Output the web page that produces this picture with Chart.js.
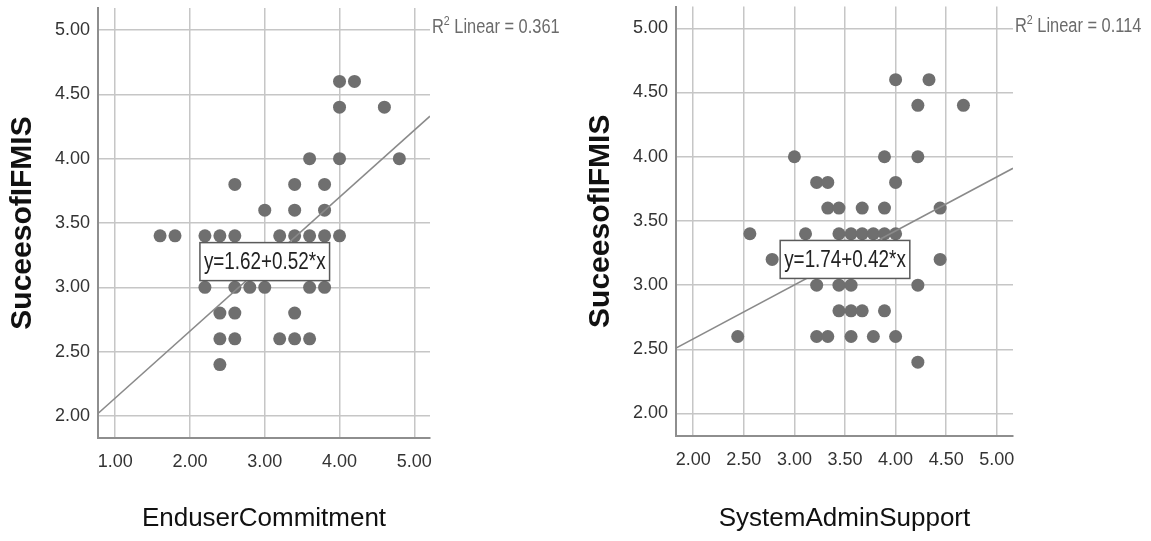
<!DOCTYPE html>
<html>
<head>
<meta charset="utf-8">
<script src="https://cdn.jsdelivr.net/npm/chart.js@4/dist/chart.umd.min.js"></script>
<style>
  html, body { margin: 0; padding: 0; background: #fff; }
  #wrap { position: relative; width: 1151px; height: 541px; overflow: hidden; }
  canvas { position: absolute; top: 0; }
  #leftChart { left: 0; }
  #rightChart { left: 578px; }
</style>
</head>
<body>
<div id="wrap">
  <canvas id="leftChart" width="578" height="541"></canvas>
  <canvas id="rightChart" width="573" height="541"></canvas>
</div>
<script>
// ===== DATA =====
const yTitle = "SuceesofIFMIS";
const yTicks = [2.0, 2.5, 3.0, 3.5, 4.0, 4.5, 5.0];

// left panel: EnduserCommitment
const leftTitle = "EnduserCommitment";
const leftXTicks = [1, 2, 3, 4, 5];
const leftX = [4.0, 4.2, 4.0, 4.6, 3.6, 4.0, 4.8, 2.6, 3.4, 3.8, 3.0, 3.4, 3.8,
  1.6, 1.8, 2.2, 2.4, 2.6, 3.2, 3.4, 3.6, 3.8, 4.0,
  2.2, 2.6, 2.8, 3.0, 3.6, 3.8,
  2.4, 2.6, 3.4,
  2.4, 2.6, 3.2, 3.4, 3.6,
  2.4];
const leftY = [4.6, 4.6, 4.4, 4.4, 4.0, 4.0, 4.0, 3.8, 3.8, 3.8, 3.6, 3.6, 3.6,
  3.4, 3.4, 3.4, 3.4, 3.4, 3.4, 3.4, 3.4, 3.4, 3.4,
  3.0, 3.0, 3.0, 3.0, 3.0, 3.0,
  2.8, 2.8, 2.8,
  2.6, 2.6, 2.6, 2.6, 2.6,
  2.4];
const leftFitX = [0.77, 5.21];
const leftFitY = [2.02, 4.33];
const leftEquation = "y=1.62+0.52*x";
const leftR2 = "0.361";

// right panel: SystemAdminSupport
const rightTitle = "SystemAdminSupport";
const rightXTicks = [2.0, 2.5, 3.0, 3.5, 4.0, 4.5, 5.0];
const rightX = [4.0, 4.33, 4.22, 4.67, 3.0, 3.89, 4.22, 3.22, 3.33, 4.0,
  3.33, 3.44, 3.67, 3.89, 4.44,
  2.56, 3.11, 3.44, 3.56, 3.67, 3.78, 3.89, 4.0,
  2.78, 4.44,
  3.22, 3.44, 3.56, 4.22,
  3.44, 3.56, 3.67, 3.89,
  2.44, 3.22, 3.33, 3.56, 3.78, 4.0,
  4.22];
const rightY = [4.6, 4.6, 4.4, 4.4, 4.0, 4.0, 4.0, 3.8, 3.8, 3.8,
  3.6, 3.6, 3.6, 3.6, 3.6,
  3.4, 3.4, 3.4, 3.4, 3.4, 3.4, 3.4, 3.4,
  3.2, 3.2,
  3.0, 3.0, 3.0, 3.0,
  2.8, 2.8, 2.8, 2.8,
  2.6, 2.6, 2.6, 2.6, 2.6, 2.6,
  2.4];
const rightFitX = [1.83, 5.16];
const rightFitY = [2.51, 3.91];
const rightEquation = "y=1.74+0.42*x";
const rightR2 = "0.114";

// ===== STYLE =====
const SANS = "'Liberation Sans', Arial, sans-serif";
const SQUEEZE = 0.82; // no narrow font installed, squeeze our own text a bit

const toPoints = (xs, ys) => xs.map((x, i) => ({ x: x, y: ys[i] }));

// draws text horizontally squeezed, returns its width
function narrowText(ctx, text, x, y, align) {
  ctx.save();
  ctx.translate(x, y);
  ctx.scale(SQUEEZE, 1);
  ctx.textAlign = align;
  ctx.fillText(text, 0, 0);
  ctx.restore();
  return ctx.measureText(text).width * SQUEEZE;
}

// R2 text + equation box
const fitNote = {
  id: "fitNote",
  afterDatasetsDraw(chart, args, opts) {
    const { ctx, chartArea } = chart;
    const xs = chart.scales.x;
    const ys = chart.scales.y;
    ctx.save();
    ctx.textBaseline = "middle";

    const ry = ys.getPixelForValue(5) - 2;
    let tx = chartArea.right + 2;
    ctx.fillStyle = "#6b6b6b";
    ctx.font = "20px " + SANS;
    tx += narrowText(ctx, "R", tx, ry, "left");
    ctx.font = "13px " + SANS;
    tx += narrowText(ctx, "2", tx, ry - 6, "left");
    ctx.font = "20px " + SANS;
    narrowText(ctx, " Linear = " + opts.r2, tx, ry, "left");

    ctx.font = "23px " + SANS;
    const w = ctx.measureText(opts.equation).width * SQUEEZE + 8;
    const h = 38;
    const cx = xs.getPixelForValue(opts.at[0]);
    const cy = ys.getPixelForValue(opts.at[1]);
    ctx.fillStyle = "#fff";
    ctx.fillRect(cx - w / 2, cy - h / 2, w, h);
    ctx.strokeStyle = "#5a5a5a";
    ctx.lineWidth = 1.5;
    ctx.strokeRect(cx - w / 2, cy - h / 2, w, h);
    ctx.fillStyle = "#222";
    narrowText(ctx, opts.equation, cx, cy + 1, "center");
    ctx.restore();
  },
};

function makeChart(id, cfg) {
  return new Chart(document.getElementById(id), {
    type: "scatter",
    data: {
      datasets: [
        {
          type: "line",
          data: toPoints(cfg.fitX, cfg.fitY),
          borderColor: "#8a8a8a",
          borderWidth: 1.5,
          pointRadius: 0,
          fill: false,
        },
        {
          data: toPoints(cfg.x, cfg.y),
          backgroundColor: "#6f6f6f",
          borderWidth: 0,
          pointRadius: 6.5,
        },
      ],
    },
    options: {
      responsive: false,
      animation: false,
      layout: { padding: { left: 0, top: cfg.top, right: cfg.right, bottom: 0 } },
      plugins: {
        legend: { display: false },
        tooltip: { enabled: false },
        fitNote: { equation: cfg.equation, r2: cfg.r2, at: cfg.boxAt },
      },
      scales: {
        x: {
          type: "linear",
          min: cfg.xMin,
          max: cfg.xMax,
          afterBuildTicks: (s) => { s.ticks = cfg.xTicks.map((v) => ({ value: v })); },
          afterFit: (s) => {
            s.height = cfg.axisH;
            s.paddingLeft = 0;
            s.paddingRight = 0;
          },
          grid: { color: "#c6c6c6", lineWidth: 1.5, drawTicks: false },
          border: { color: "#8e8e8e", width: 2 },
          ticks: {
            padding: 13,
            autoSkip: false,
            maxRotation: 0,
            color: "#333",
            font: { family: SANS, size: 18 },
            callback: (v) => Number(v).toFixed(2),
          },
          title: {
            display: true,
            text: cfg.title,
            color: "#111",
            font: { family: SANS, size: 26 },
            padding: { top: 0, bottom: 7 },
          },
        },
        y: {
          type: "linear",
          min: cfg.yMin,
          max: cfg.yMax,
          afterBuildTicks: (s) => { s.ticks = yTicks.map((v) => ({ value: v })); },
          afterFit: (s) => {
            s.width = 98;
            s.paddingTop = 0;
            s.paddingBottom = 0;
          },
          grid: { color: "#c6c6c6", lineWidth: 1.5, drawTicks: false },
          border: { color: "#8e8e8e", width: 2 },
          ticks: {
            padding: 8,
            autoSkip: false,
            color: "#333",
            font: { family: SANS, size: 18 },
            callback: (v) => Number(v).toFixed(2),
          },
          title: {
            display: true,
            text: yTitle,
            color: "#111",
            font: { family: SANS, size: 30, weight: "bold" },
            padding: { top: 5, bottom: 0 },
          },
        },
      },
    },
    plugins: [fitNote],
  });
}

makeChart("leftChart", {
  x: leftX, y: leftY, fitX: leftFitX, fitY: leftFitY,
  xTicks: leftXTicks, xMin: 0.77, xMax: 5.21, yMin: 1.83, yMax: 5.17,
  title: leftTitle, equation: leftEquation, r2: leftR2, boxAt: [3.0, 3.2],
  top: 8, right: 148, axisH: 103,
});

makeChart("rightChart", {
  x: rightX, y: rightY, fitX: rightFitX, fitY: rightFitY,
  xTicks: rightXTicks, xMin: 1.83, xMax: 5.16, yMin: 1.825, yMax: 5.17,
  title: rightTitle, equation: rightEquation, r2: rightR2, boxAt: [3.5, 3.2],
  top: 3, right: 138, axisH: 105,
});
</script>
</body>
</html>
